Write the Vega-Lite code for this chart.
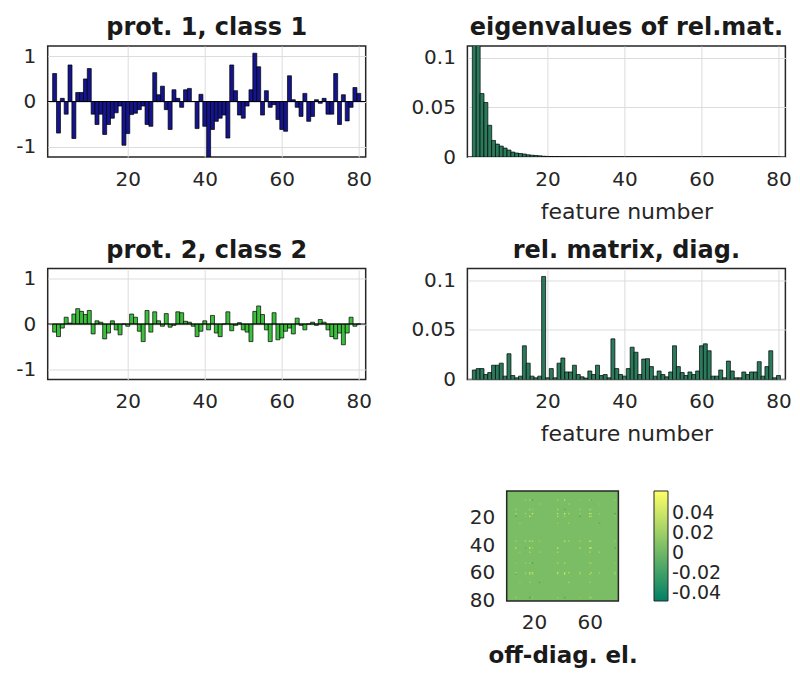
{
  "$schema": "https://vega.github.io/schema/vega-lite/v6.json",
  "background": "white",
  "padding": {"left": 14.7, "top": 15, "right": 5, "bottom": 5},
  "bounds": "flush",
  "spacing": 222.5,
  "config": {
    "font": "DejaVu Sans",
    "view": {"stroke": "#262626", "strokeWidth": 1.5},
    "axis": {"domain": false, "ticks": false, "tickSize": 0, "labelFontSize": 20, "labelColor": "#262626", "labelFont": "DejaVu Sans", "labelFlush": false, "labelPadding": 12, "gridColor": "#dcdcdc", "gridWidth": 1, "titleFontSize": 22, "titleFontWeight": "normal", "titleColor": "#262626", "titleFont": "DejaVu Sans", "titlePadding": 12},
    "title": {"fontSize": 24, "fontWeight": "bold", "color": "#1a1a1a", "offset": 6, "font": "DejaVu Sans"},
    "legend": {"labelFont": "DejaVu Sans"}
  },
  "datasets": {
    "p1": [
      {"i":1,"v":0.62},{"i":2,"v":-0.70},{"i":3,"v":0.07},{"i":4,"v":-0.28},{"i":5,"v":0.81},{"i":6,"v":-0.82},{"i":7,"v":0.20},{"i":8,"v":0.20},{"i":9,"v":0.50},{"i":10,"v":0.73},
      {"i":11,"v":-0.28},{"i":12,"v":-0.51},{"i":13,"v":-0.28},{"i":14,"v":-0.73},{"i":15,"v":-0.51},{"i":16,"v":-0.37},{"i":17,"v":-0.25},{"i":18,"v":-0.10},{"i":19,"v":-0.97},{"i":20,"v":-0.71},
      {"i":21,"v":-0.29},{"i":22,"v":-0.26},{"i":23,"v":-0.18},{"i":24,"v":-0.10},{"i":25,"v":-0.51},{"i":26,"v":-0.55},{"i":27,"v":0.64},{"i":28,"v":0.15},{"i":29,"v":0.34},{"i":30,"v":-0.18},
      {"i":31,"v":-0.62},{"i":32,"v":0.26},{"i":33,"v":0.07},{"i":34,"v":-0.13},{"i":35,"v":0.26},{"i":36,"v":0.29},{"i":37,"v":0.0},{"i":38,"v":-0.60},{"i":39,"v":0.16},{"i":40,"v":-0.55},
      {"i":41,"v":-1.23},{"i":42,"v":-0.62},{"i":43,"v":-0.44},{"i":44,"v":-0.37},{"i":45,"v":-0.30},{"i":46,"v":-0.81},{"i":47,"v":0.81},{"i":48,"v":0.24},{"i":49,"v":-0.30},{"i":50,"v":-0.37},
      {"i":51,"v":-0.10},{"i":52,"v":0.26},{"i":53,"v":1.07},{"i":54,"v":0.77},{"i":55,"v":-0.30},{"i":56,"v":0.24},{"i":57,"v":-0.13},{"i":58,"v":-0.07},{"i":59,"v":-0.40},{"i":60,"v":-0.62},
      {"i":61,"v":-0.66},{"i":62,"v":0.57},{"i":63,"v":0.04},{"i":64,"v":-0.13},{"i":65,"v":-0.33},{"i":66,"v":0.18},{"i":67,"v":-0.44},{"i":68,"v":-0.33},{"i":69,"v":0.04},{"i":70,"v":-0.04},
      {"i":71,"v":0.07},{"i":72,"v":-0.28},{"i":73,"v":-0.28},{"i":74,"v":0.62},{"i":75,"v":-0.51},{"i":76,"v":0.15},{"i":77,"v":-0.43},{"i":78,"v":-0.13},{"i":79,"v":0.31},{"i":80,"v":0.18}
    ],
    "p2": [
      {"i":1,"v":-0.18},{"i":2,"v":-0.28},{"i":3,"v":-0.09},{"i":4,"v":0.15},{"i":5,"v":0.02},{"i":6,"v":0.22},{"i":7,"v":0.34},{"i":8,"v":0.28},{"i":9,"v":0.21},{"i":10,"v":0.30},
      {"i":11,"v":-0.22},{"i":12,"v":0.07},{"i":13,"v":0.04},{"i":14,"v":-0.33},{"i":15,"v":-0.20},{"i":16,"v":0.07},{"i":17,"v":-0.13},{"i":18,"v":-0.24},{"i":19,"v":0.0},{"i":20,"v":-0.05},
      {"i":21,"v":0.22},{"i":22,"v":0.15},{"i":23,"v":-0.16},{"i":24,"v":-0.39},{"i":25,"v":0.30},{"i":26,"v":-0.18},{"i":27,"v":0.27},{"i":28,"v":0.07},{"i":29,"v":-0.05},{"i":30,"v":0.23},
      {"i":31,"v":-0.07},{"i":32,"v":-0.03},{"i":33,"v":0.27},{"i":34,"v":0.25},{"i":35,"v":0.06},{"i":36,"v":0.04},{"i":37,"v":-0.05},{"i":38,"v":-0.28},{"i":39,"v":-0.16},{"i":40,"v":0.07},
      {"i":41,"v":-0.13},{"i":42,"v":0.19},{"i":43,"v":-0.20},{"i":44,"v":-0.28},{"i":45,"v":0.0},{"i":46,"v":0.27},{"i":47,"v":-0.15},{"i":48,"v":-0.03},{"i":49,"v":0.03},{"i":50,"v":-0.13},
      {"i":51,"v":-0.18},{"i":52,"v":-0.39},{"i":53,"v":0.28},{"i":54,"v":0.40},{"i":55,"v":0.21},{"i":56,"v":-0.13},{"i":57,"v":-0.39},{"i":58,"v":0.25},{"i":59,"v":-0.35},{"i":60,"v":-0.31},
      {"i":61,"v":-0.16},{"i":62,"v":-0.09},{"i":63,"v":-0.22},{"i":64,"v":0.13},{"i":65,"v":-0.03},{"i":66,"v":-0.13},{"i":67,"v":0.0},{"i":68,"v":0.04},{"i":69,"v":-0.03},{"i":70,"v":0.10},
      {"i":71,"v":0.04},{"i":72,"v":-0.13},{"i":73,"v":-0.28},{"i":74,"v":-0.33},{"i":75,"v":-0.20},{"i":76,"v":-0.46},{"i":77,"v":-0.20},{"i":78,"v":0.15},{"i":79,"v":-0.05},{"i":80,"v":0.0}
    ],
    "eig": [
      {"i":1,"v":0.2},{"i":2,"v":0.14},{"i":3,"v":0.064},{"i":4,"v":0.055},{"i":5,"v":0.032},{"i":6,"v":0.0167},{"i":7,"v":0.013},{"i":8,"v":0.011},{"i":9,"v":0.009},{"i":10,"v":0.007},
      {"i":11,"v":0.005},{"i":12,"v":0.004},{"i":13,"v":0.0035},{"i":14,"v":0.003},{"i":15,"v":0.0022},{"i":16,"v":0.0018},{"i":17,"v":0.0015},{"i":18,"v":0.0012},{"i":19,"v":0.0008},{"i":20,"v":0.0006},
      {"i":21,"v":0.0005},{"i":22,"v":0.0004},{"i":23,"v":0.0003},{"i":24,"v":0.0002},{"i":25,"v":0.0002},{"i":26,"v":0.0001},{"i":27,"v":0.0001},{"i":28,"v":0.0001},{"i":29,"v":0.0001},{"i":30,"v":0.0001},
      {"i":31,"v":0},{"i":32,"v":0},{"i":33,"v":0},{"i":34,"v":0},{"i":35,"v":0},{"i":36,"v":0},{"i":37,"v":0},{"i":38,"v":0},{"i":39,"v":0},{"i":40,"v":0},
      {"i":41,"v":0},{"i":42,"v":0},{"i":43,"v":0},{"i":44,"v":0},{"i":45,"v":0},{"i":46,"v":0},{"i":47,"v":0},{"i":48,"v":0},{"i":49,"v":0},{"i":50,"v":0},
      {"i":51,"v":0},{"i":52,"v":0},{"i":53,"v":0},{"i":54,"v":0},{"i":55,"v":0},{"i":56,"v":0},{"i":57,"v":0},{"i":58,"v":0},{"i":59,"v":0},{"i":60,"v":0},
      {"i":61,"v":0},{"i":62,"v":0},{"i":63,"v":0},{"i":64,"v":0},{"i":65,"v":0},{"i":66,"v":0},{"i":67,"v":0},{"i":68,"v":0},{"i":69,"v":0},{"i":70,"v":0},
      {"i":71,"v":0},{"i":72,"v":0},{"i":73,"v":0},{"i":74,"v":0},{"i":75,"v":0},{"i":76,"v":0},{"i":77,"v":0},{"i":78,"v":0},{"i":79,"v":0},{"i":80,"v":0}
    ],
    "diag": [
      {"i":1,"v":0.0096},{"i":2,"v":0.011},{"i":3,"v":0.011},{"i":4,"v":0.005},{"i":5,"v":0.007},{"i":6,"v":0.0144},{"i":7,"v":0.0144},{"i":8,"v":0.0165},{"i":9,"v":0.0034},{"i":10,"v":0.026},
      {"i":11,"v":0.004},{"i":12,"v":0.0017},{"i":13,"v":0.0034},{"i":14,"v":0.034},{"i":15,"v":0.0165},{"i":16,"v":0.0034},{"i":17,"v":0.0017},{"i":18,"v":0.0034},{"i":19,"v":0.104},{"i":20,"v":0.0017},
      {"i":21,"v":0.011},{"i":22,"v":0.0017},{"i":23,"v":0.0165},{"i":24,"v":0.0217},{"i":25,"v":0.0076},{"i":26,"v":0.0076},{"i":27,"v":0.0144},{"i":28,"v":0.005},{"i":29,"v":0.0027},{"i":30,"v":0.0014},
      {"i":31,"v":0.0086},{"i":32,"v":0.005},{"i":33,"v":0.0144},{"i":34,"v":0.004},{"i":35,"v":0.005},{"i":36,"v":0.0017},{"i":37,"v":0.041},{"i":38,"v":0.011},{"i":39,"v":0.005},{"i":40,"v":0.0034},
      {"i":41,"v":0.011},{"i":42,"v":0.0326},{"i":43,"v":0.0275},{"i":44,"v":0.005},{"i":45,"v":0.0206},{"i":46,"v":0.021},{"i":47,"v":0.013},{"i":48,"v":0.0034},{"i":49,"v":0.0086},{"i":50,"v":0.005},
      {"i":51,"v":0.0027},{"i":52,"v":0.0076},{"i":53,"v":0.034},{"i":54,"v":0.013},{"i":55,"v":0.007},{"i":56,"v":0.004},{"i":57,"v":0.0076},{"i":58,"v":0.005},{"i":59,"v":0.0086},{"i":60,"v":0.034},
      {"i":61,"v":0.036},{"i":62,"v":0.029},{"i":63,"v":0.0034},{"i":64,"v":0.0034},{"i":65,"v":0.0096},{"i":66,"v":0.0017},{"i":67,"v":0.0186},{"i":68,"v":0.0086},{"i":69,"v":0.0017},{"i":70,"v":0.0017},
      {"i":71,"v":0.0076},{"i":72,"v":0.005},{"i":73,"v":0.0076},{"i":74,"v":0.0076},{"i":75,"v":0.018},{"i":76,"v":0.0034},{"i":77,"v":0.013},{"i":78,"v":0.029},{"i":79,"v":0.0017},{"i":80,"v":0.004}
    ],
    "heat": [
      {"r":7,"c":14,"v":0.02},{"r":7,"c":17,"v":0.03},{"r":7,"c":19,"v":-0.015},{"r":7,"c":37,"v":0.025},{"r":7,"c":42,"v":0.035},{"r":7,"c":53,"v":0.015},{"r":7,"c":60,"v":0.03},{"r":7,"c":61,"v":-0.01},{"r":7,"c":78,"v":0.02},
      {"r":14,"c":17,"v":0.025},{"r":14,"c":19,"v":0.015},{"r":14,"c":37,"v":0.03},{"r":14,"c":42,"v":-0.012},{"r":14,"c":53,"v":0.02},{"r":14,"c":60,"v":0.025},{"r":14,"c":61,"v":0.015},{"r":14,"c":78,"v":0.01},
      {"r":17,"c":19,"v":0.04},{"r":17,"c":37,"v":0.035},{"r":17,"c":42,"v":0.045},{"r":17,"c":53,"v":0.02},{"r":17,"c":60,"v":0.04},{"r":17,"c":61,"v":0.03},{"r":17,"c":78,"v":-0.02},
      {"r":19,"c":37,"v":0.03},{"r":19,"c":42,"v":0.02},{"r":19,"c":53,"v":-0.02},{"r":19,"c":60,"v":0.035},{"r":19,"c":61,"v":0.025},{"r":19,"c":78,"v":0.015},
      {"r":37,"c":42,"v":0.04},{"r":37,"c":53,"v":0.025},{"r":37,"c":60,"v":0.045},{"r":37,"c":61,"v":0.02},{"r":37,"c":78,"v":0.02},
      {"r":42,"c":53,"v":0.03},{"r":42,"c":60,"v":0.04},{"r":42,"c":61,"v":0.035},{"r":42,"c":78,"v":-0.015},
      {"r":53,"c":60,"v":0.025},{"r":53,"c":61,"v":0.02},{"r":53,"c":78,"v":0.015},
      {"r":60,"c":61,"v":0.03},{"r":60,"c":78,"v":0.025},{"r":61,"c":78,"v":0.02},
      {"c":7,"r":14,"v":0.02},{"c":7,"r":17,"v":0.03},{"c":7,"r":19,"v":-0.015},{"c":7,"r":37,"v":0.025},{"c":7,"r":42,"v":0.035},{"c":7,"r":53,"v":0.015},{"c":7,"r":60,"v":0.03},{"c":7,"r":61,"v":-0.01},{"c":7,"r":78,"v":0.02},
      {"c":14,"r":17,"v":0.025},{"c":14,"r":19,"v":0.015},{"c":14,"r":37,"v":0.03},{"c":14,"r":42,"v":-0.012},{"c":14,"r":53,"v":0.02},{"c":14,"r":60,"v":0.025},{"c":14,"r":61,"v":0.015},{"c":14,"r":78,"v":0.01},
      {"c":17,"r":19,"v":0.04},{"c":17,"r":37,"v":0.035},{"c":17,"r":42,"v":0.045},{"c":17,"r":53,"v":0.02},{"c":17,"r":60,"v":0.04},{"c":17,"r":61,"v":0.03},{"c":17,"r":78,"v":-0.02},
      {"c":19,"r":37,"v":0.03},{"c":19,"r":42,"v":0.02},{"c":19,"r":53,"v":-0.02},{"c":19,"r":60,"v":0.035},{"c":19,"r":61,"v":0.025},{"c":19,"r":78,"v":0.015},
      {"c":37,"r":42,"v":0.04},{"c":37,"r":53,"v":0.025},{"c":37,"r":60,"v":0.045},{"c":37,"r":61,"v":0.02},{"c":37,"r":78,"v":0.02},
      {"c":42,"r":53,"v":0.03},{"c":42,"r":60,"v":0.04},{"c":42,"r":61,"v":0.035},{"c":42,"r":78,"v":-0.015},
      {"c":53,"r":60,"v":0.025},{"c":53,"r":61,"v":0.02},{"c":53,"r":78,"v":0.015},
      {"c":60,"r":61,"v":0.03},{"c":60,"r":78,"v":0.025},{"c":61,"r":78,"v":0.02},
      {"r":10,"c":24,"v":0.018},{"r":24,"c":10,"v":0.018},{"r":10,"c":45,"v":0.022},{"r":45,"c":10,"v":0.022},{"r":10,"c":67,"v":0.015},{"r":67,"c":10,"v":0.015},
      {"r":24,"c":45,"v":0.02},{"r":45,"c":24,"v":0.02},{"r":24,"c":67,"v":-0.012},{"r":67,"c":24,"v":-0.012},{"r":45,"c":67,"v":0.025},{"r":67,"c":45,"v":0.025},
      {"r":17,"c":45,"v":0.03},{"r":45,"c":17,"v":0.03},{"r":37,"c":45,"v":0.028},{"r":45,"c":37,"v":0.028},{"r":60,"c":45,"v":0.03},{"r":45,"c":60,"v":0.03},
      {"r":17,"c":67,"v":0.02},{"r":67,"c":17,"v":0.02},{"r":60,"c":67,"v":0.022},{"r":67,"c":60,"v":0.022},{"r":37,"c":24,"v":0.018},{"r":24,"c":37,"v":0.018}
    ]
  },
  "vconcat": [
    {
      "bounds": "flush",
      "spacing": 101.7,
      "hconcat": [
        {
          "width": 318, "height": 111,
          "title": "prot. 1, class 1",
          "data": {"name": "p1"},
          "layer": [
            {
              "mark": {"type": "bar", "width": 3.975, "color": "#14148c", "stroke": "#000000", "strokeWidth": 0.7, "clip": true},
              "encoding": {
                "x": {"field": "i", "type": "quantitative", "scale": {"domain": [0.5, 80.5], "nice": false, "zero": false}, "axis": {"values": [20, 40, 60, 80], "title": null}},
                "y": {"field": "v", "type": "quantitative", "scale": {"domain": [-1.23, 1.23], "nice": false}, "axis": {"values": [-1, 0, 1], "title": null, "labelExpr": "'' + datum.value"}}
              }
            },
            {
              "data": {"values": [{"z": 0}]},
              "mark": {"type": "rule", "color": "#000000", "strokeWidth": 1.2},
              "encoding": {"y": {"field": "z", "type": "quantitative"}}
            }
          ]
        },
        {
          "width": 318, "height": 111,
          "title": "eigenvalues of rel.mat.",
          "data": {"name": "eig"},
          "mark": {"type": "bar", "width": 3.975, "color": "#2c7a5c", "stroke": "#000000", "strokeWidth": 0.7, "clip": true},
          "encoding": {
            "x": {"field": "i", "type": "quantitative", "scale": {"domain": [0.5, 80.5], "nice": false, "zero": false}, "axis": {"values": [20, 40, 60, 80], "title": "feature number"}},
            "y": {"field": "v", "type": "quantitative", "scale": {"domain": [0, 0.112], "nice": false}, "axis": {"values": [0, 0.05, 0.1], "title": null, "labelExpr": "'' + datum.value"}}
          }
        }
      ]
    },
    {
      "bounds": "flush",
      "spacing": 101.7,
      "hconcat": [
        {
          "width": 318, "height": 111,
          "title": "prot. 2, class 2",
          "data": {"name": "p2"},
          "layer": [
            {
              "mark": {"type": "bar", "width": 3.975, "color": "#3cbf3c", "stroke": "#000000", "strokeWidth": 0.7, "clip": true},
              "encoding": {
                "x": {"field": "i", "type": "quantitative", "scale": {"domain": [0.5, 80.5], "nice": false, "zero": false}, "axis": {"values": [20, 40, 60, 80], "title": null}},
                "y": {"field": "v", "type": "quantitative", "scale": {"domain": [-1.23, 1.23], "nice": false}, "axis": {"values": [-1, 0, 1], "title": null, "labelExpr": "'' + datum.value"}}
              }
            },
            {
              "data": {"values": [{"z": 0}]},
              "mark": {"type": "rule", "color": "#000000", "strokeWidth": 1.2},
              "encoding": {"y": {"field": "z", "type": "quantitative"}}
            }
          ]
        },
        {
          "width": 318, "height": 111,
          "title": "rel. matrix, diag.",
          "data": {"name": "diag"},
          "mark": {"type": "bar", "width": 3.975, "color": "#2c7a5c", "stroke": "#000000", "strokeWidth": 0.7, "clip": true},
          "encoding": {
            "x": {"field": "i", "type": "quantitative", "scale": {"domain": [0.5, 80.5], "nice": false, "zero": false}, "axis": {"values": [20, 40, 60, 80], "title": "feature number"}},
            "y": {"field": "v", "type": "quantitative", "scale": {"domain": [0, 0.112], "nice": false}, "axis": {"values": [0, 0.05, 0.1], "title": null, "labelExpr": "'' + datum.value"}}
          }
        }
      ]
    },
    {
      "bounds": "flush",
      "spacing": 0,
      "hconcat": [
        {
          "width": 458.3, "height": 110,
          "data": {"values": []},
          "view": {"stroke": null},
          "mark": "point",
          "encoding": {}
        },
        {
          "width": 111.7, "height": 110,
          "data": {"name": "heat"},
          "view": {"fill": "#7abd65", "stroke": "#262626", "strokeWidth": 1.5},
          "mark": {"type": "rect", "width": 1.4, "height": 1.38},
          "encoding": {
            "x": {"field": "c", "type": "quantitative", "scale": {"domain": [0.5, 80.5], "nice": false, "zero": false}, "axis": {"values": [20, 60], "grid": false, "title": "off-diag. el.", "titleFontWeight": "bold", "titleFontSize": 23, "titleColor": "#1a1a1a", "titlePadding": 12}},
            "y": {"field": "r", "type": "quantitative", "scale": {"domain": [0.5, 80.5], "nice": false, "zero": false, "reverse": true}, "axis": {"values": [20, 40, 60, 80], "grid": false, "title": null}},
            "color": {"field": "v", "type": "quantitative", "scale": {"domain": [-0.048, 0.062], "range": ["#008066", "#ffff66"], "interpolate": "rgb"}, "legend": {"title": null, "orient": "none", "legendX": 606.3, "legendY": 445, "direction": "vertical", "values": [0.04, 0.02, 0, -0.02, -0.04], "gradientLength": 110, "gradientThickness": 14, "gradientStrokeColor": "#262626", "gradientStrokeWidth": 1, "labelExpr": "'' + datum.value", "labelFontSize": 19, "labelColor": "#262626", "padding": 0, "labelOffset": 4}}
          }
        }
      ]
    }
  ]
}
